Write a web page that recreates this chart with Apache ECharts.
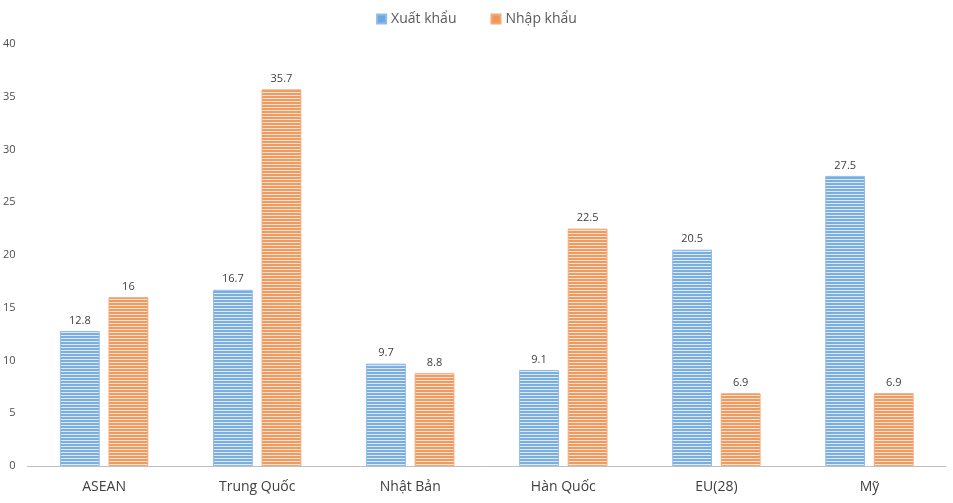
<!DOCTYPE html>
<html><head><meta charset="utf-8">
<script src="https://cdn.jsdelivr.net/npm/echarts@6/dist/echarts.min.js"></script>
<style>html,body{margin:0;padding:0;background:#fff}#c{width:953px;height:503px}</style>
</head><body><div id="c"></div>
<script>
const categories = ['ASEAN','Trung Quốc','Nhật Bản','Hàn Quốc','EU(28)','Mỹ'];
const exportValues = [12.8,16.7,9.7,9.1,20.5,27.5];
const importValues = [16,35.7,8.8,22.5,6.9,6.9];
const seriesNames = ['Xuất khẩu','Nhập khẩu'];

function stripe(color, light){
  const c = document.createElement('canvas');
  c.width = 4; c.height = 3;
  const g = c.getContext('2d');
  g.fillStyle = light; g.fillRect(0,0,4,3);
  g.fillStyle = color; g.fillRect(0,0,4,2);
  return {image:c, repeat:'repeat'};
}
const font = "'Open Sans', Calibri, 'Liberation Sans', sans-serif";
const chart = echarts.init(document.getElementById('c'));
const labelCfg = {show:true, position:'top', color:'#404040', fontSize:11, fontFamily:font, distance:5};
chart.setOption({
  animation:false,
  textStyle:{fontFamily:font},
  legend:{top:7, left:'center', itemWidth:9, itemHeight:9, itemGap:34,
    textStyle:{fontSize:14, color:'#595959', fontFamily:font},
    data:[{name:seriesNames[0], icon:'rect', itemStyle:{color:'#6fa6dc'}},{name:seriesNames[1], icon:'rect', itemStyle:{color:'#f0955a'}}]},
  grid:{left:26, right:7, top:44, bottom:37},
  xAxis:{type:'category', data:categories,
    axisLine:{lineStyle:{color:'#bfbfbf', width:1}}, axisTick:{show:false},
    axisLabel:{color:'#404040', fontSize:14, margin:14, fontFamily:font}},
  yAxis:{type:'value', min:0, max:40, interval:5,
    splitLine:{show:false}, axisLine:{show:false}, axisTick:{show:false},
    axisLabel:{color:'#4d4d4d', fontSize:11, margin:12, fontFamily:font}},
  series:[
    {name:seriesNames[0], type:'bar', data:exportValues, barWidth:'26%', barGap:'22%',
      itemStyle:{color:stripe('#7aaee0','#dfeaf7'), borderColor:'#8fbbe6', borderWidth:1},
      label:labelCfg},
    {name:seriesNames[1], type:'bar', data:importValues, barWidth:'26%',
      itemStyle:{color:stripe('#f09a60','#fbe3d3'), borderColor:'#f2a877', borderWidth:1},
      label:labelCfg}
  ]
});
</script></body></html>
